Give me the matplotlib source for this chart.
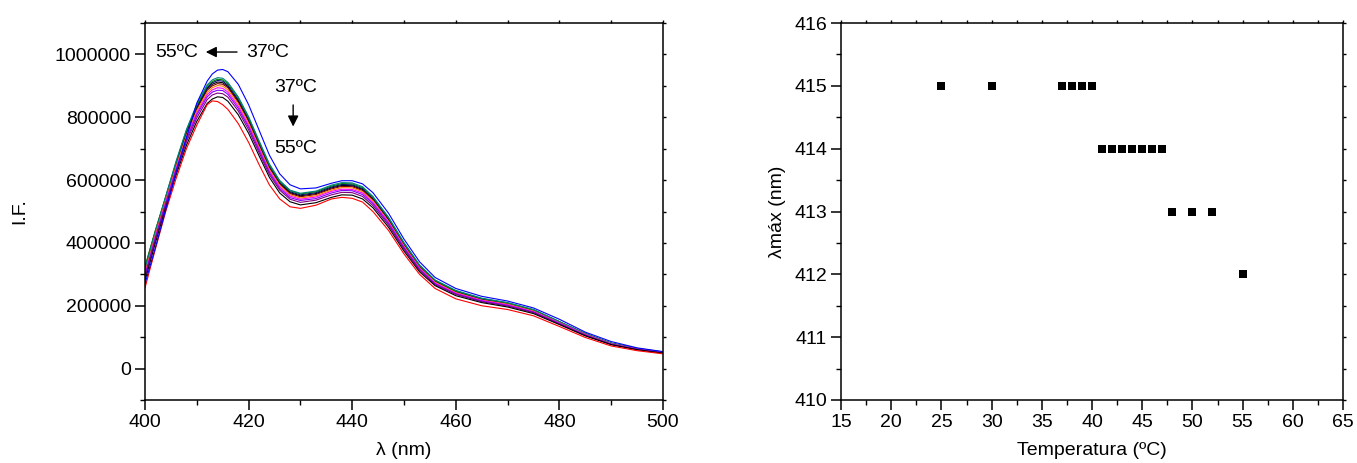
import matplotlib
matplotlib.use("Agg")
import matplotlib.pyplot as plt
from matplotlib.ticker import MultipleLocator

plt.rcParams['font.family'] = ['Liberation Sans', 'DejaVu Sans']

# ---------------- data: fluorescence spectra (I.F. in thousands) ----------------
wavelength = [400, 402, 404, 406, 408, 410, 412, 413, 414, 415, 416, 418, 420, 422, 424,
              426, 428, 430, 433, 436, 438, 440, 442, 444, 447, 450, 453, 456, 460, 465,
              470, 475, 480, 485, 490, 495, 500]

if_blue = [270, 385, 505, 625, 735, 845, 915, 938, 950, 952, 945, 905, 840, 760, 680,
           620, 585, 572, 575, 590, 598, 598, 588, 560, 495, 412, 340, 290, 255, 230,
           215, 193, 157, 116, 86, 66, 54]
if_darkcyan = [318, 435, 548, 660, 761, 842, 903, 919, 926, 924, 911, 865, 802, 726, 652,
               599, 568, 558, 565, 584, 592, 591, 579, 548, 482, 401, 330, 282, 249, 224,
               210, 188, 150, 112, 81, 64, 53]
if_green = [325, 440, 548, 657, 758, 838, 899, 914, 921, 919, 907, 861, 798, 722, 648,
            596, 566, 556, 563, 581, 589, 588, 576, 545, 480, 399, 328, 281, 247, 223,
            209, 187, 149, 111, 81, 64, 53]
if_navy = [310, 428, 543, 653, 754, 834, 894, 910, 917, 915, 902, 856, 794, 719, 645,
           593, 563, 553, 560, 578, 586, 585, 573, 543, 477, 397, 327, 279, 246, 222,
           208, 186, 149, 111, 80, 63, 52]
if_black = [300, 420, 540, 650, 750, 830, 890, 905, 912, 910, 898, 852, 790, 715, 642,
            590, 560, 550, 557, 575, 583, 582, 570, 540, 475, 395, 325, 278, 245, 221,
            207, 185, 148, 110, 80, 63, 52]
if_wine = [322, 438, 545, 650, 748, 826, 886, 900, 907, 905, 894, 848, 786, 711, 639,
           587, 557, 547, 554, 572, 580, 579, 567, 537, 473, 393, 323, 277, 244, 220,
           206, 184, 147, 109, 80, 63, 52]
if_orange = [305, 425, 535, 643, 741, 820, 879, 894, 901, 899, 887, 842, 781, 706, 634,
             583, 553, 543, 550, 568, 576, 575, 563, 534, 469, 390, 321, 275, 242, 218,
             205, 183, 146, 109, 79, 62, 51]
if_magenta = [300, 420, 530, 637, 735, 813, 872, 887, 894, 892, 880, 835, 774, 701, 629,
              578, 549, 539, 546, 564, 571, 570, 559, 529, 466, 387, 319, 272, 240, 217,
              203, 181, 145, 108, 78, 62, 51]
if_violet = [295, 415, 525, 632, 729, 807, 865, 880, 886, 885, 873, 828, 768, 695, 624,
             573, 544, 535, 541, 559, 567, 566, 554, 525, 462, 384, 316, 270, 238, 215,
             201, 180, 144, 107, 78, 61, 51]
if_purple = [290, 410, 520, 625, 722, 798, 856, 871, 877, 875, 864, 820, 760, 688, 618,
             568, 539, 529, 536, 553, 561, 560, 548, 519, 457, 380, 313, 267, 236, 213,
             199, 178, 142, 106, 77, 61, 50]
if_black2 = [280, 400, 512, 616, 711, 787, 844, 858, 865, 863, 851, 808, 749, 678, 609,
             559, 531, 521, 528, 545, 553, 552, 540, 512, 450, 374, 308, 264, 232, 210,
             196, 175, 140, 104, 76, 60, 49]
if_red = [257, 380, 500, 605, 700, 775, 840, 852, 850, 840, 825, 780, 720, 650, 585,
          540, 515, 510, 520, 540, 545, 542, 530, 500, 440, 365, 300, 255, 222, 200,
          188, 168, 134, 99, 72, 57, 47]

spectra = [
    (if_black, '#000000'), (if_wine, '#800000'), (if_navy, '#000080'),
    (if_green, '#008000'), (if_darkcyan, '#008080'), (if_orange, '#FF8000'),
    (if_magenta, '#FF00FF'), (if_violet, '#8000FF'), (if_purple, '#800080'),
    (if_black2, '#000000'), (if_red, '#FF0000'), (if_blue, '#0000FF'),
]

# ---------------- data: lambda max vs temperature ----------------
temperature = [25, 30, 37, 38, 39, 40, 41, 42, 43, 44, 45, 46, 47, 48, 50, 52, 55]
lambda_max = [415, 415, 415, 415, 415, 415, 414, 414, 414, 414, 414, 414, 414, 413, 413, 413, 412]

W, H = 1357, 463
fig = plt.figure(figsize=(W / 100, H / 100), dpi=100)

FS = 14


def style(ax, xmaj, xmin, ymaj, ymin):
    ax.xaxis.set_major_locator(MultipleLocator(xmaj))
    ax.xaxis.set_minor_locator(MultipleLocator(xmin))
    ax.yaxis.set_major_locator(MultipleLocator(ymaj))
    ax.yaxis.set_minor_locator(MultipleLocator(ymin))
    for s in ax.spines.values():
        s.set_linewidth(1.1)
    ax.tick_params(which='major', direction='out', length=7, width=1.1, labelsize=FS, pad=3)
    ax.tick_params(which='minor', direction='out', length=3.5, width=1.0)
    # small mirrored ticks on the top and right axes
    top = ax.secondary_xaxis('top')
    top.xaxis.set_major_locator(MultipleLocator(xmaj))
    top.xaxis.set_minor_locator(MultipleLocator(xmin))
    top.tick_params(which='both', direction='out', length=2.5, width=1.0, labeltop=False)
    top.spines['top'].set_visible(False)
    right = ax.secondary_yaxis('right')
    right.yaxis.set_major_locator(MultipleLocator(ymaj))
    right.yaxis.set_minor_locator(MultipleLocator(ymin))
    right.tick_params(which='both', direction='out', length=2.5, width=1.0, labelright=False)
    right.spines['right'].set_visible(False)


# left panel
ax1 = fig.add_axes([145 / W, (H - 400) / H, 518 / W, 377 / H])
for vals, col in spectra:
    ax1.plot(wavelength, [v * 1000 for v in vals], color=col, lw=0.8)
ax1.set_xlim(400, 500)
ax1.set_ylim(-100000, 1100000)
style(ax1, 20, 10, 200000, 100000)
ax1.set_yticks([0, 200000, 400000, 600000, 800000, 1000000])
ax1.set_yticklabels(['0', '200000', '400000', '600000', '800000', '1000000'])
ax1.set_xlabel('λ (nm)', fontsize=FS, labelpad=8)
ax1.set_ylabel('I.F.', fontsize=FS, labelpad=19)

# annotations
ax1.text(0.062, 0.923, '55ºC', transform=ax1.transAxes, fontsize=FS, ha='center', va='center')
ax1.text(0.237, 0.923, '37ºC', transform=ax1.transAxes, fontsize=FS, ha='center', va='center')
ax1.annotate('', xy=(0.112, 0.923), xytext=(0.183, 0.923), xycoords='axes fraction',
             arrowprops=dict(arrowstyle='-|>', color='black', lw=1.0, mutation_scale=16))
ax1.text(0.29, 0.830, '37ºC', transform=ax1.transAxes, fontsize=FS, ha='center', va='center')
ax1.annotate('', xy=(0.286, 0.718), xytext=(0.286, 0.790), xycoords='axes fraction',
             arrowprops=dict(arrowstyle='-|>', color='black', lw=1.0, mutation_scale=16))
ax1.text(0.29, 0.666, '55ºC', transform=ax1.transAxes, fontsize=FS, ha='center', va='center')

# right panel
ax2 = fig.add_axes([841 / W, (H - 400) / H, 502 / W, 377 / H])
ax2.plot(temperature, lambda_max, linestyle='none', marker='s', markersize=6,
         markeredgewidth=0, color='black')
ax2.set_xlim(15, 65)
ax2.set_ylim(410, 416)
style(ax2, 5, 2.5, 1, 0.5)
ax2.set_xlabel('Temperatura (ºC)', fontsize=FS, labelpad=8)
ax2.set_ylabel('λmáx (nm)', fontsize=FS, labelpad=6)

fig.savefig('out.png', dpi=100)
